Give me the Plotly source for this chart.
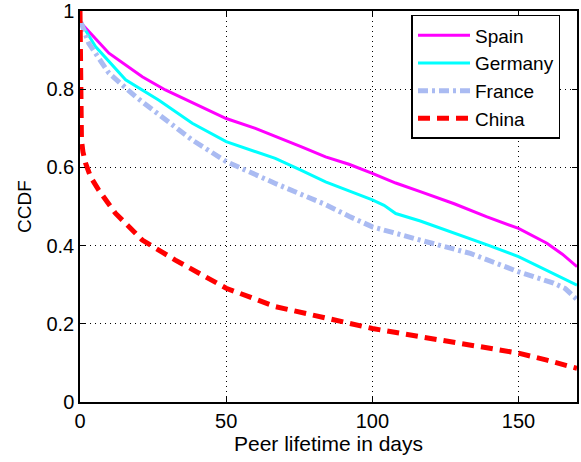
import plotly.graph_objects as go

# Spain
spain_x = [0, 0.5, 9.9, 21.3, 29.2, 40, 50, 60, 69, 76, 84, 92, 100, 108, 116.4, 128, 139, 150, 159.7, 165, 170]
spain_y = [0.97, 0.968, 0.892, 0.832, 0.798, 0.76, 0.725, 0.70, 0.674, 0.652, 0.627, 0.608, 0.585, 0.560, 0.538, 0.507, 0.474, 0.444, 0.406, 0.378, 0.346]

# Germany
germany_x = [0, 0.5, 5.3, 15.6, 27, 38.4, 50, 58, 66.8, 75, 84, 92, 100, 104, 108, 116.4, 130, 140, 150, 162, 166, 170]
germany_y = [0.97, 0.968, 0.909, 0.824, 0.772, 0.713, 0.666, 0.645, 0.623, 0.595, 0.563, 0.540, 0.517, 0.503, 0.482, 0.463, 0.427, 0.400, 0.372, 0.329, 0.315, 0.299]

# France
france_x = [0, 0.5, 3, 9.9, 19, 29.2, 38.4, 50, 58, 66.8, 75, 84, 92, 100, 116.4, 133.5, 150, 162, 166, 170]
france_y = [0.97, 0.968, 0.917, 0.841, 0.781, 0.721, 0.670, 0.615, 0.587, 0.559, 0.533, 0.505, 0.475, 0.448, 0.414, 0.380, 0.333, 0.304, 0.290, 0.262]

# China
china_x = [0, 0.05, 0.1, 0.2, 0.5, 1.0, 1.9, 3.6, 6.4, 12.1, 21.3, 32.6, 50, 66.8, 82.5, 100, 116.4, 133.5, 150, 159.7, 170]
china_y = [1.0, 0.90, 0.80, 0.72, 0.67, 0.64, 0.611, 0.576, 0.542, 0.483, 0.414, 0.363, 0.291, 0.244, 0.218, 0.188, 0.167, 0.146, 0.125, 0.107, 0.086]

x_ticks = [0, 50, 100, 150]
y_ticks = [0, 0.2, 0.4, 0.6, 0.8, 1]

fig = go.Figure()
fig.add_trace(go.Scatter(x=spain_x, y=spain_y, mode="lines", name="Spain",
                         line=dict(color="#ff00ff", width=3)))
fig.add_trace(go.Scatter(x=germany_x, y=germany_y, mode="lines", name="Germany",
                         line=dict(color="#00ffff", width=3)))
fig.add_trace(go.Scatter(x=france_x, y=france_y, mode="lines", name="France",
                         line=dict(color="#aabbf2", width=5, dash="10px,4px,3px,4px")))
fig.add_trace(go.Scatter(x=china_x, y=china_y, mode="lines", name="China",
                         line=dict(color="#ff0000", width=5, dash="12px,7px")))

font = "Liberation Sans, Arial, sans-serif"
axis_common = dict(
    showline=True, linecolor="black", linewidth=1.5, mirror="ticks",
    ticks="inside", ticklen=5, tickcolor="black", tickwidth=1,
    showgrid=True, gridcolor="black", gridwidth=1, griddash="1px,4px",
    zeroline=False, automargin=False,
    tickfont=dict(family=font, size=20, color="black"),
)

fig.update_layout(
    width=581, height=462,
    margin=dict(l=80, r=4, t=11, b=60),
    paper_bgcolor="white", plot_bgcolor="white",
    font=dict(family=font, size=20, color="black"),
    xaxis=dict(range=[0, 170], tickvals=x_ticks, ticktext=[str(v) for v in x_ticks],
               title=dict(text="Peer lifetime in days", font=dict(family=font, size=21), standoff=2),
               **axis_common),
    yaxis=dict(range=[0, 1], tickvals=y_ticks, ticktext=["0", "0.2", "0.4", "0.6", "0.8", "1"],
               title=dict(text="CCDF", font=dict(family=font, size=19), standoff=10),
               **axis_common),
    legend=dict(x=0.667, y=0.99, xanchor="left", yanchor="top",
                bgcolor="white", bordercolor="black", borderwidth=1.5,
                font=dict(family=font, size=19, color="black"),
                tracegroupgap=0, itemwidth=52),
    showlegend=True,
)

fig.write_html("out.html", config={"displayModeBar": False},
               post_script="document.body.style.margin='0';")
